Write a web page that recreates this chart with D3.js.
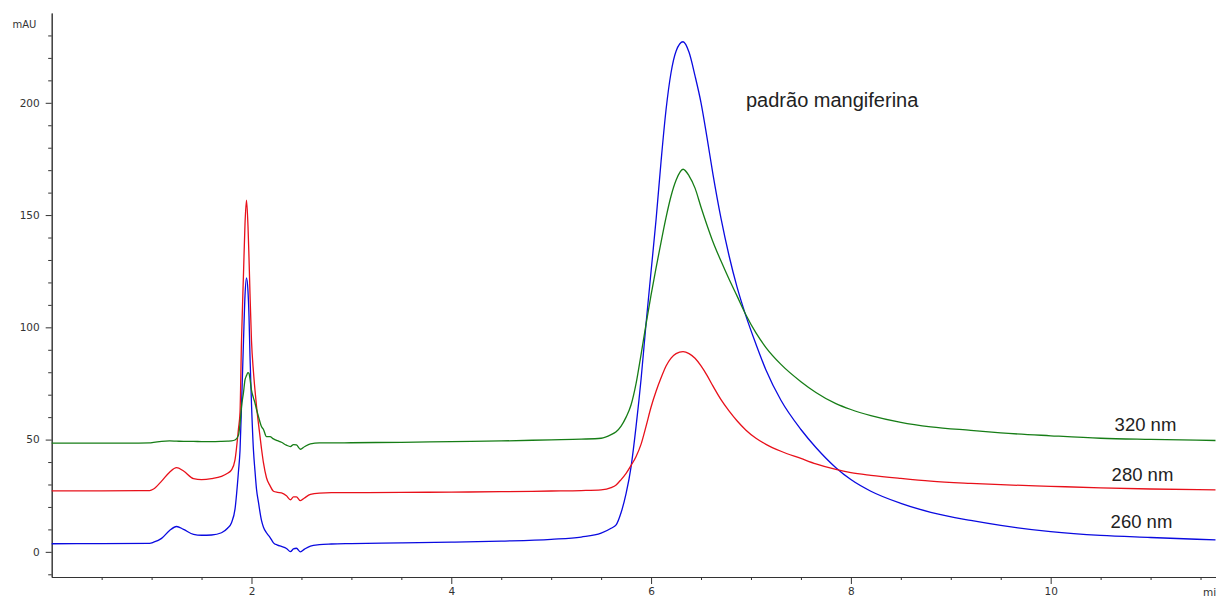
<!DOCTYPE html>
<html>
<head>
<meta charset="utf-8">
<script src="https://cdn.jsdelivr.net/npm/d3@7"></script>
<style>
  body { margin: 0; background: #fff; }
  svg { display: block; }
</style>
</head>
<body>
<div id="chart"></div>
<script>
// retention time (min), shared by the three traces
var times = [0, 0.5, 0.98, 1.02, 1.1, 1.18, 1.25, 1.32, 1.42, 1.5, 1.6, 1.7, 1.76, 1.8, 1.835, 1.87, 1.885, 1.9, 1.92, 1.935,
    1.95, 1.965, 1.975, 1.985, 2.0, 2.02, 2.035, 2.05, 2.07, 2.1, 2.12, 2.15, 2.185, 2.22, 2.26, 2.3, 2.35, 2.39, 2.42, 2.45,
    2.49, 2.53, 2.59, 2.68, 2.8, 3.0, 3.5, 4.0, 4.5, 5.0, 5.3, 5.5, 5.6, 5.65, 5.7, 5.75, 5.8, 5.85, 5.9, 5.95,
    6.0, 6.05, 6.1, 6.15, 6.2, 6.25, 6.32, 6.38, 6.44, 6.5, 6.56, 6.62, 6.7, 6.78, 6.86, 6.95, 7.05, 7.15, 7.3, 7.5,
    7.65, 7.85, 8.0, 8.2, 8.5, 8.8, 9.2, 9.5, 10.0, 10.5, 11.0, 11.65];

// absorbance (mAU)
var nm260 = [3.6, 3.7, 3.8, 4.3, 6.0, 9.5, 11.3, 10.0, 7.8, 7.4, 7.5, 8.5, 10.5, 13, 19, 36, 45, 65, 94, 114,
    122, 116, 105, 87, 66, 45, 36, 28, 22, 14, 11, 8.5, 6.5, 4, 3, 2.4, 1.5, 0.1, 1.3, 1.6,
    0, 1.2, 2.6, 3.2, 3.5, 3.7, 4.0, 4.3, 4.8, 5.6, 6.6, 8.3, 10.5, 12, 17.5, 26, 38, 56, 77, 101.8,
    125, 148, 174, 197, 213.5, 223, 227.2, 222.5, 212, 200, 184.5, 168, 148.5, 132, 118, 105, 92.5, 81, 67.5, 54.5,
    46.5, 37.5, 32.2, 27, 21.6, 17.6, 14, 11.8, 9.0, 7.3, 6.4, 5.3];

var nm280 = [27.2, 27.2, 27.3, 28, 31.5, 35.5, 37.5, 36, 32.6, 32.2, 32.6, 33.6, 35, 36.5, 41, 55, 62, 94, 124, 146,
    156.7, 145, 131, 115, 94, 80, 72, 65, 57, 46, 39.6, 33, 29.5, 27, 26.5, 26.3, 25, 23.2, 24.5, 24.5,
    22.8, 24, 25.6, 26.2, 26.4, 26.4, 26.5, 26.6, 26.8, 27.1, 27.3, 27.6, 28.6, 29.8, 32.2, 35, 38.5, 42.5, 48, 56,
    64.5, 71.5, 77.5, 82.8, 86.3, 88.3, 89.2, 88.3, 86.2, 82.8, 78.6, 73.8, 67.8, 62.8, 58.4, 54.2, 50.6, 47.9, 44.8, 41.6,
    39.2, 36.7, 35.3, 34.1, 32.7, 31.5, 30.5, 29.9, 29.2, 28.5, 28, 27.6];

var nm320 = [48.4, 48.4, 48.5, 48.8, 49.2, 49.4, 49.3, 49.2, 49.2, 49.1, 49.1, 49.2, 49.3, 49.4, 49.8, 52, 57, 64.7, 71, 76.6,
    78.5, 79.8, 79.5, 77, 72, 68.5, 66.3, 63.5, 60.2, 55.8, 54.5, 51.3, 51.3, 50.3, 49.5, 48.8, 47.5, 46.9, 47.8, 47.6,
    45.7, 46.8, 48.1, 48.5, 48.5, 48.6, 48.8, 49.1, 49.4, 49.9, 50.2, 50.6, 52.2, 53.5, 56, 60, 65.5, 75, 88, 101.5,
    114.5, 126.5, 138, 149, 158.5, 165.5, 170.4, 167.5, 162, 153.5, 145.5, 138, 129.5, 121.5, 114, 105.5, 97.5, 91, 83.5, 75.8,
    71, 66, 63.4, 60.7, 57.7, 55.7, 54.1, 53.0, 51.7, 50.6, 50.1, 49.6];

var seriesNames = ["260 nm", "280 nm", "320 nm"];
var seriesValues = [nm260, nm280, nm320];
var seriesColors = ["#0a0ae0", "#e8101a", "#167d16"];

var xMajorTicks = [2, 4, 6, 8, 10];
var yMajorTicks = [0, 50, 100, 150, 200];

var W = 1216, H = 598;
var svg = d3.select("#chart").append("svg")
    .attr("width", W)
    .attr("height", H);

var x = d3.scaleLinear().domain([0, 11.655]).range([51.7, 1216]);
var y = d3.scaleLinear().domain([-11.2, 240]).range([577, 13]);

// minor ticks first
var xMinor = d3.range(0.5, 11.6, 0.5).filter(function(v) { return xMajorTicks.indexOf(v) < 0; });
var yMinor = d3.range(-10, 240, 10).filter(function(v) { return yMajorTicks.indexOf(v) < 0; });

function styleAxis(g) {
    g.selectAll("path, line").attr("stroke", "#333").attr("stroke-width", 1);
    g.selectAll("text")
        .attr("fill", "#333")
        .style("font-family", "'DejaVu Sans', sans-serif")
        .style("font-size", "10.5px");
}

svg.append("g")
    .attr("transform", "translate(0," + y(-11.2) + ")")
    .call(d3.axisBottom(x).tickValues(xMinor).tickSize(3).tickFormat("").tickSizeOuter(0))
    .call(styleAxis);
svg.append("g")
    .attr("transform", "translate(0," + y(-11.2) + ")")
    .call(d3.axisBottom(x).tickValues(xMajorTicks).tickSize(7).tickPadding(4).tickSizeOuter(0))
    .call(styleAxis);

svg.append("g")
    .attr("transform", "translate(" + x(0) + ",0)")
    .call(d3.axisLeft(y).tickValues(yMinor).tickSize(3.5).tickFormat("").tickSizeOuter(0))
    .call(styleAxis);
svg.append("g")
    .attr("transform", "translate(" + x(0) + ",0)")
    .call(d3.axisLeft(y).tickValues(yMajorTicks).tickSize(6).tickPadding(6).tickSizeOuter(0))
    .call(styleAxis);

// axis unit labels
svg.append("text")
    .attr("x", 12.5)
    .attr("y", 27.5)
    .attr("fill", "#333")
    .style("font-family", "'DejaVu Sans', sans-serif")
    .style("font-size", "10px")
    .text("mAU");

// the unit is cut by the right edge in the original too
svg.append("text")
    .attr("x", 1203)
    .attr("y", 596)
    .attr("fill", "#333")
    .style("font-family", "'DejaVu Sans', sans-serif")
    .style("font-size", "10.5px")
    .text("min");

// traces
var line = d3.line()
    .x(function(d) { return x(d[0]); })
    .y(function(d) { return y(d[1]); })
    .curve(d3.curveMonotoneX);

seriesValues.forEach(function(vals, i) {
    var pts = times.map(function(t, j) { return [t, vals[j]]; });
    svg.append("path")
        .datum(pts)
        .attr("fill", "none")
        .attr("stroke", seriesColors[i])
        .attr("stroke-width", 1.3)
        .attr("stroke-linejoin", "round")
        .attr("d", line);
});

// trace labels
var labelPos = [[10.6, 10.7], [10.61, 31.6], [10.64, 53.8]];
seriesNames.forEach(function(name, i) {
    svg.append("text")
        .attr("x", x(labelPos[i][0]))
        .attr("y", y(labelPos[i][1]))
        .attr("fill", "#222")
        .style("font-family", "'Liberation Sans', Arial, sans-serif")
        .style("font-size", "18.5px")
        .text(name);
});

svg.append("text")
    .attr("x", x(6.95))
    .attr("y", y(198))
    .attr("fill", "#222")
    .style("font-family", "'Liberation Sans', Arial, sans-serif")
    .style("font-size", "20px")
    .text("padrão mangiferina");
</script>
</body>
</html>
